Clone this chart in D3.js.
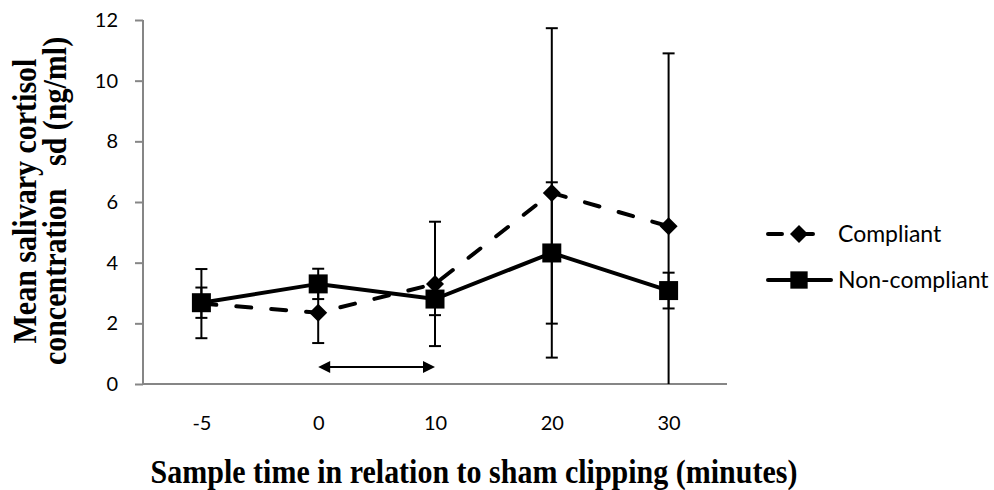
<!DOCTYPE html>
<meta charset="utf-8">
<style>
body { margin: 0; background: #fff; }
.axis path, .axis line { stroke: #868686; stroke-width: 2px; }
.axis text { font-family: Lato, "Open Sans", sans-serif; font-size: 20px; fill: #000; }
.title { font-family: "Liberation Serif", "Times New Roman", serif; font-weight: bold; font-size: 30px; }
.legend text { font-family: Lato, "Open Sans", sans-serif; font-size: 23px; }
</style>
<body>
<script src="https://d3js.org/d3.v7.min.js"></script>
<script>

// sample times (categories)
var times = ["-5", "0", "10", "20", "30"];

// mean cortisol and sd
var compliantMean = [2.65, 2.35, 3.3, 6.3, 5.2];
var compliantSd   = [1.14, 1.0, 2.05, 5.43, 5.7];
var nonCompliantMean = [2.68, 3.3, 2.8, 4.32, 3.08];
var nonCompliantSd   = [0.5, 0.5, 0.53, 2.33, 0.59];

var yTicks = [0, 2, 4, 6, 8, 10, 12];

// double arrow marking the clipping period
var arrowFrom = "0", arrowTo = "10", arrowLevel = 0.56;

var seriesNames = ["Compliant", "Non-compliant"];

var width = 994, height = 490;
var margin = {left: 143, right: 267, top: 20, bottom: 106};

var svg = d3.select("body").append("svg")
    .attr("width", width)
    .attr("height", height);

var x = d3.scalePoint().domain(times)
    .range([margin.left, width - margin.right]).padding(0.5);
var y = d3.scaleLinear().domain([0, 12])
    .range([height - margin.bottom, margin.top]);

// y axis
svg.append("g")
    .attr("class", "axis")
    .attr("transform", "translate(" + margin.left + ",0)")
    .call(d3.axisLeft(y).tickValues(yTicks).tickSize(8).tickSizeOuter(0).tickPadding(17))
    .call(function(g) { g.select(".domain").attr("d", "M0," + y(0) + "V" + y(12)); });

// x axis, no tick marks
svg.append("g")
    .attr("class", "axis")
    .attr("transform", "translate(0," + y(0) + ")")
    .call(d3.axisBottom(x).tickSize(0).tickPadding(32))
    .call(function(g) {
      g.select(".domain").attr("d", "M" + margin.left + ",0H" + (width - margin.right));
    });

function buildRows(means, sds) {
  return times.map(function(t, i) { return {t: t, v: means[i], sd: sds[i]}; });
}
var series = [
  {name: seriesNames[1], rows: buildRows(nonCompliantMean, nonCompliantSd), dash: null,
   symbol: d3.symbolSquare, size: 361, rot: 0},
  {name: seriesNames[0], rows: buildRows(compliantMean, compliantSd), dash: "15,20",
   symbol: d3.symbolSquare, size: 162, rot: 45}
];

var line = d3.line()
    .x(function(d) { return x(d.t); })
    .y(function(d) { return y(d.v); });

series.forEach(function(s) {
  var g = svg.append("g");

  // error bars
  s.rows.forEach(function(d) {
    var cx = x(d.t);
    var hi = d.v + d.sd, lo = d.v - d.sd;
    var loC = Math.max(lo, 0);
    g.append("line")
        .attr("x1", cx).attr("x2", cx)
        .attr("y1", y(hi)).attr("y2", y(loC))
        .attr("stroke", "#000").attr("stroke-width", 2);
    g.append("line")
        .attr("x1", cx - 6).attr("x2", cx + 6)
        .attr("y1", y(hi)).attr("y2", y(hi))
        .attr("stroke", "#000").attr("stroke-width", 2);
    if (lo >= 0) {
      g.append("line")
          .attr("x1", cx - 6).attr("x2", cx + 6)
          .attr("y1", y(lo)).attr("y2", y(lo))
          .attr("stroke", "#000").attr("stroke-width", 2);
    }
  });

  g.append("path")
      .datum(s.rows)
      .attr("fill", "none")
      .attr("stroke", "#000")
      .attr("stroke-width", 4)
      .attr("stroke-linecap", "round")
      .attr("stroke-dasharray", s.dash)
      .attr("d", line);

  g.selectAll(".pt")
      .data(s.rows)
      .enter().append("path")
      .attr("d", d3.symbol().type(s.symbol).size(s.size))
      .attr("transform", function(d) {
        return "translate(" + x(d.t) + "," + y(d.v) + ") rotate(" + s.rot + ")";
      })
      .attr("fill", "#000");
});

// double-headed arrow
var ax1 = x(arrowFrom), ax2 = x(arrowTo), ay = y(arrowLevel);
svg.append("line")
    .attr("x1", ax1 + 8).attr("x2", ax2 - 8)
    .attr("y1", ay).attr("y2", ay)
    .attr("stroke", "#000").attr("stroke-width", 2);
svg.append("path")
    .attr("d", "M" + ax1 + "," + ay + "l12,-6v12z")
    .attr("fill", "#000");
svg.append("path")
    .attr("d", "M" + ax2 + "," + ay + "l-12,-6v12z")
    .attr("fill", "#000");

// legend
var legend = svg.append("g").attr("class", "legend");
var legendRows = [series[1], series[0]];
legendRows.forEach(function(s, i) {
  var ly = 234 + i * 46;
  legend.append("line")
      .attr("x1", 768).attr("x2", s.dash ? 817 : 831)
      .attr("y1", ly).attr("y2", ly)
      .attr("stroke", "#000").attr("stroke-width", 4)
      .attr("stroke-linecap", "round")
      .attr("stroke-dasharray", s.dash ? "14,17" : null);
  legend.append("path")
      .attr("d", d3.symbol().type(s.symbol).size(s.dash ? 162 : 300))
      .attr("transform", "translate(799," + ly + ") rotate(" + s.rot + ")")
      .attr("fill", "#000");
  legend.append("text")
      .attr("x", 838).attr("y", ly)
      .attr("dy", "0.36em")
      .text(s.name);
});

// axis titles (glyphs are a little stretched in the original)
svg.append("text")
    .attr("class", "title")
    .attr("transform", "translate(474,483) scale(1,1.12)")
    .attr("text-anchor", "middle")
    .text("Sample time in relation to sham clipping (minutes)");

svg.append("text")
    .attr("class", "title")
    .attr("transform", "translate(36,201) rotate(-90) scale(1,1.12)")
    .attr("text-anchor", "middle")
    .text("Mean salivary cortisol");
svg.append("text")
    .attr("class", "title")
    .attr("transform", "translate(66,201) rotate(-90) scale(1,1.12)")
    .attr("text-anchor", "middle")
    .attr("xml:space", "preserve")
    .style("white-space", "pre")
    .text("concentration   sd (ng/ml)");

</script>
</body>
